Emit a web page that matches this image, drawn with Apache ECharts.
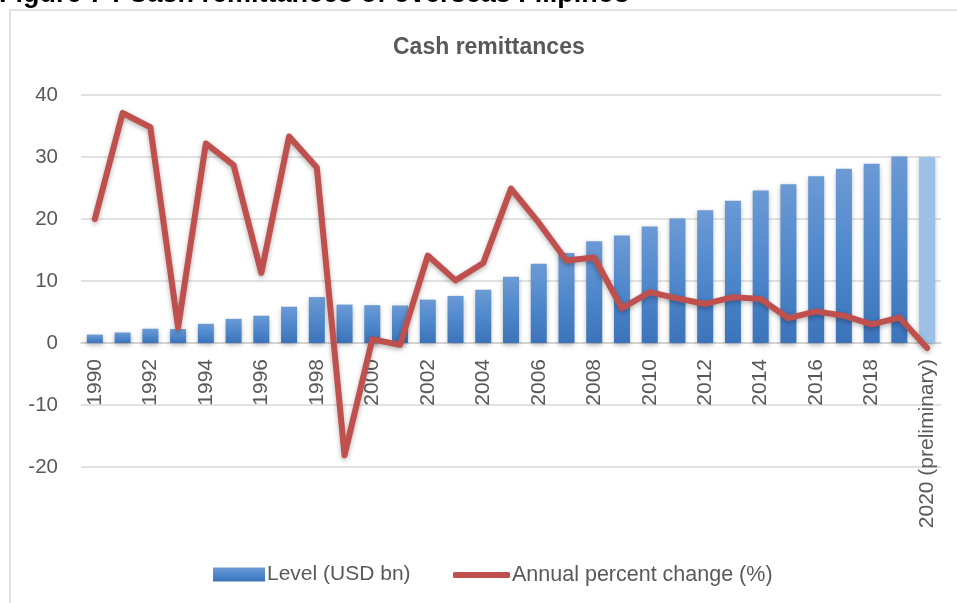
<!DOCTYPE html>
<html>
<head>
<meta charset="utf-8">
<script src="https://cdn.jsdelivr.net/npm/echarts@6/dist/echarts.min.js"></script>
<style>
  html, body { margin: 0; padding: 0; background: #fff; }
  #chart { width: 957px; height: 603px; }
</style>
</head>
<body>
<div id="chart"></div>
<script>
// data
const years = ['1990', '1991', '1992', '1993', '1994', '1995', '1996', '1997', '1998', '1999',
  '2000', '2001', '2002', '2003', '2004', '2005', '2006', '2007', '2008', '2009',
  '2010', '2011', '2012', '2013', '2014', '2015', '2016', '2017', '2018', '2019',
  '2020 (preliminary)'];
const levelUsdBn = [1.35, 1.7, 2.3, 2.25, 3.1, 3.9, 4.4, 5.85, 7.4, 6.2,
  6.1, 6.05, 7.0, 7.6, 8.6, 10.7, 12.8, 14.5, 16.4, 17.35,
  18.8, 20.1, 21.4, 22.95, 24.6, 25.6, 26.9, 28.1, 28.9, 30.1,
  30.0];
const annualChange = [20.0, 37.1, 34.8, 2.5, 32.2, 28.7, 11.3, 33.3, 28.3, -18.1,
  0.6, -0.3, 14.1, 10.1, 12.9, 24.9, 19.4, 13.3, 13.8, 5.6,
  8.2, 7.2, 6.3, 7.4, 7.1, 4.0, 5.1, 4.4, 3.0, 4.1,
  -0.8];
const yTicks = { min: -20, max: 40, step: 10 };

const chart = echarts.init(document.getElementById('chart'));

const textColor = '#595959';
const font = 'Liberation Sans, Arial, sans-serif';
const gridTop = 95;
const gridBottom = 136;
const plotHeight = 603 - gridTop - gridBottom;
// the category labels sit on the zero line, as in the spreadsheet chart
const zeroOffset = -plotHeight * (0 - yTicks.min) / (yTicks.max - yTicks.min);

const barGradient = new echarts.graphic.LinearGradient(0, 0, 0, 1, [
  { offset: 0, color: '#6c9ad5' },
  { offset: 0.5, color: '#4f88cc' },
  { offset: 1, color: '#3c73ba' }
]);

const barData = levelUsdBn.map((v, i) => {
  if (i === levelUsdBn.length - 1) {
    return { value: v, itemStyle: { color: '#9dc0e6' } };
  }
  return v;
});

chart.setOption({
  backgroundColor: '#fff',
  animation: false,
  textStyle: { fontFamily: font },
  graphic: [
    {
      type: 'rect',
      shape: { x: 10, y: 10, width: 980, height: 620 },
      style: { fill: 'none', stroke: '#d9d9d9', lineWidth: 1.5 },
      silent: true
    },
    {
      type: 'text',
      x: -1,
      y: 8,
      style: {
        text: 'Figure 7 : Cash remittances of overseas Filipinos',
        fontSize: 27,
        fontWeight: 'bold',
        fontFamily: font,
        fill: '#000',
        verticalAlign: 'bottom'
      },
      silent: true
    }
  ],
  title: {
    text: 'Cash remittances',
    left: 388,
    top: 31,
    textStyle: { fontSize: 23, fontWeight: 'bold', color: textColor }
  },
  legend: [
    {
      left: 213,
      top: 564,
      padding: 0,
      itemWidth: 52,
      itemHeight: 14,
      itemGap: 0,
      textStyle: { fontSize: 21, color: textColor, padding: [0, 0, 0, -3] },
      data: [{ name: 'Level (USD bn)', icon: 'rect' }]
    },
    {
      left: 453,
      top: 564,
      padding: 0,
      itemWidth: 57,
      itemHeight: 6,
      itemGap: 0,
      textStyle: { fontSize: 21.5, color: textColor, padding: [0, 0, 0, -3] },
      data: [{ name: 'Annual percent change (%)', icon: 'roundRect' }]
    }
  ],
  grid: { left: 81, right: 16, top: gridTop, bottom: gridBottom, outerBoundsMode: 'none' },
  xAxis: {
    type: 'category',
    data: years,
    boundaryGap: true,
    position: 'bottom',
    offset: zeroOffset,
    axisLine: { onZero: false, lineStyle: { color: '#d0d0d0', width: 1.5 } },
    axisTick: { show: false },
    axisLabel: {
      interval: 1,
      rotate: 90,
      margin: 16,
      fontSize: 21,
      color: textColor
    }
  },
  yAxis: {
    type: 'value',
    min: yTicks.min,
    max: yTicks.max,
    interval: yTicks.step,
    axisLine: { show: false },
    axisTick: { show: false },
    splitLine: { lineStyle: { color: '#d9d9d9', width: 1.5 } },
    axisLabel: { fontSize: 20.5, color: textColor, margin: 23 }
  },
  series: [
    {
      name: 'Level (USD bn)',
      type: 'bar',
      data: barData,
      barWidth: 16,
      itemStyle: {
        color: barGradient,
        shadowBlur: 5,
        shadowColor: 'rgba(0,0,0,0.3)',
        shadowOffsetY: 2
      }
    },
    {
      name: 'Annual percent change (%)',
      type: 'line',
      data: annualChange,
      symbol: 'none',
      z: 3,
      lineStyle: {
        color: '#c0504d',
        width: 6,
        cap: 'round',
        join: 'round',
        shadowBlur: 5,
        shadowColor: 'rgba(0,0,0,0.3)',
        shadowOffsetY: 2
      },
      itemStyle: { color: '#c0504d' }
    }
  ]
});
</script>
</body>
</html>
